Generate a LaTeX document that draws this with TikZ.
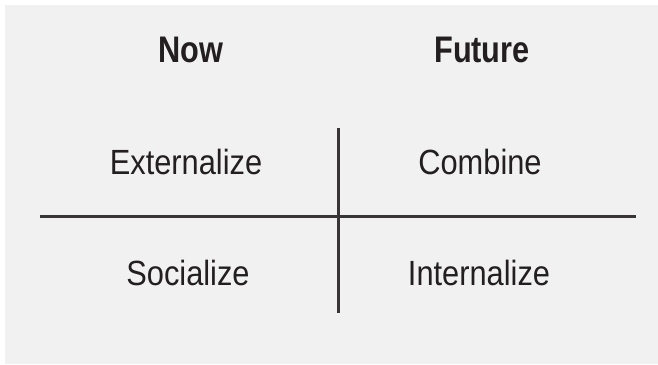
\documentclass[tikz,border=0pt]{standalone}
\usepackage{fontspec}
\setmainfont{Liberation Sans}
\newfontfamily\headfont{Liberation Sans}[FakeStretch=0.83]
\newfontfamily\modefont{Liberation Sans}[FakeStretch=0.88]
\definecolor{panel}{HTML}{F1F1F1}
\definecolor{ink}{HTML}{231F20}
\tikzstyle{head}=[text=ink,font=\headfont\fontsize{37}{42}\selectfont\bfseries,inner sep=0pt]
\tikzstyle{mode}=[text=ink,font=\modefont\fontsize{35}{40}\selectfont,inner sep=0pt]
\tikzstyle{axis}=[draw=ink!90,line width=3pt]

\begin{document}
\begin{tikzpicture}[x=1pt,y=1pt]
			\useasboundingbox (0,0) rectangle (658,364);
			\fill [panel] (5,0) rectangle (658,359);
			
			\node (now) at (191,314) [head] {Now};
			\node (future) at (482,314) [head] {Future};
			
			\node (ext) at (186,202) [mode] {Externalize};
			\node (comb) at (480,202) [mode] {Combine};
			\node (soc) at (188,91) [mode] {Socialize};
			\node (int) at (479,91) [mode] {Internalize};
			
			\coordinate (left) at (40,147);
			\coordinate (right) at (636,147);
			\coordinate (top) at (338,236);
			\coordinate (bottom) at (338,51);
			
			\draw [axis] (left) -- (right);
			\draw [axis] (top) -- (bottom);
		\end{tikzpicture}
\end{document}
